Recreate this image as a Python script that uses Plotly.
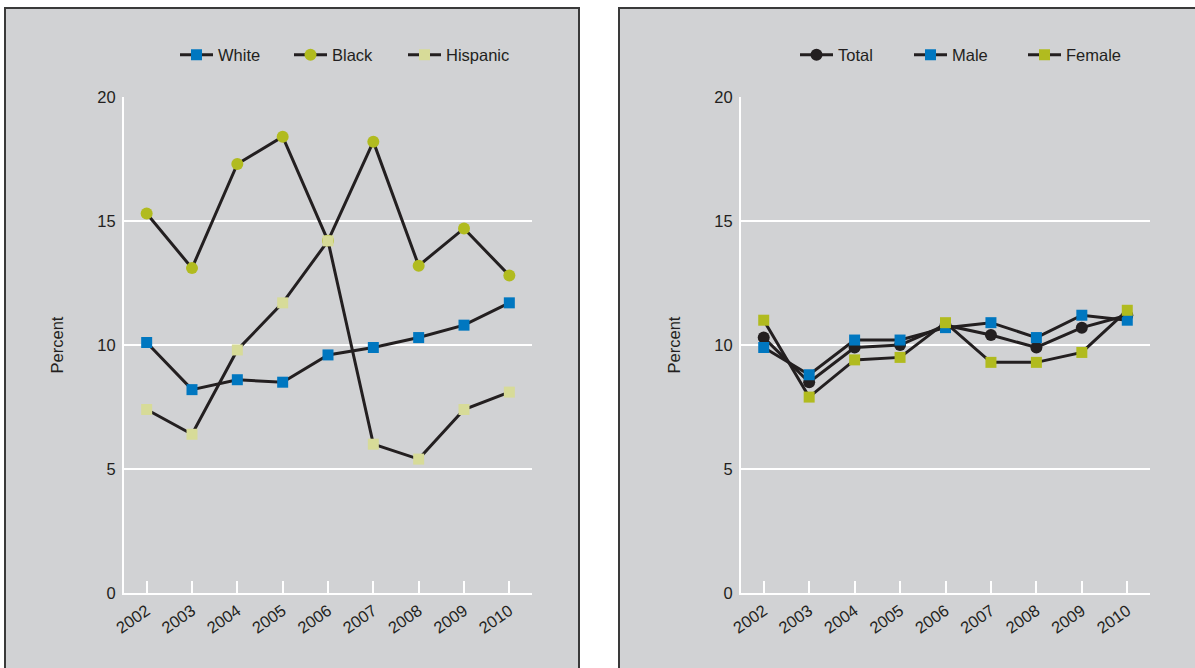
import plotly.graph_objects as go

years = ["2002", "2003", "2004", "2005", "2006", "2007", "2008", "2009", "2010"]

white = [10.1, 8.2, 8.6, 8.5, 9.6, 9.9, 10.3, 10.8, 11.7]
black = [15.3, 13.1, 17.3, 18.4, 14.2, 18.2, 13.2, 14.7, 12.8]
hispanic = [7.4, 6.4, 9.8, 11.7, 14.2, 6.0, 5.4, 7.4, 8.1]

total = [10.3, 8.5, 9.9, 10.0, 10.8, 10.4, 9.9, 10.7, 11.2]
male = [9.9, 8.8, 10.2, 10.2, 10.7, 10.9, 10.3, 11.2, 11.0]
female = [11.0, 7.9, 9.4, 9.5, 10.9, 9.3, 9.3, 9.7, 11.4]

y_ticks = [0, 5, 10, 15, 20]

W, H = 1195, 668
BG = "#d1d2d4"
LINE = "#231f20"
BLUE = "#0077c0"
OLIVE = "#b1bb1f"
PALE = "#d7db98"
FONT = "Liberation Sans, Arial, sans-serif"
FS = 16.5

def px(x):
    return x / W

def py(y):
    return 1 - y / H

fig = go.Figure()

def add(name, vals, color, symbol, xa, ya, legend):
    fig.add_trace(go.Scatter(
        x=years, y=vals, name=name, mode="lines+markers",
        line=dict(color=LINE, width=3),
        marker=dict(color=color, symbol=symbol, size=12 if symbol == "circle" else 11,
                    line=dict(width=0)),
        xaxis=xa, yaxis=ya, legend=legend, cliponaxis=False,
    ))

add("White", white, BLUE, "square", "x", "y", "legend")
add("Black", black, OLIVE, "circle", "x", "y", "legend")
add("Hispanic", hispanic, PALE, "square", "x", "y", "legend")
add("Total", total, LINE, "circle", "x2", "y2", "legend2")
add("Male", male, BLUE, "square", "x2", "y2", "legend2")
add("Female", female, OLIVE, "square", "x2", "y2", "legend2")

# panel backgrounds
fig.add_shape(type="rect", xref="paper", yref="paper",
              x0=px(5), x1=px(579), y0=py(700), y1=py(8),
              fillcolor=BG, line=dict(color="#3a3a3a", width=2), layer="below")
fig.add_shape(type="rect", xref="paper", yref="paper",
              x0=px(619), x1=px(1210), y0=py(700), y1=py(8),
              fillcolor=BG, line=dict(color="#3a3a3a", width=2), layer="below")

ydom = [py(593), py(97)]
common_x = dict(
    type="category", range=[-0.5, 8.5], showgrid=False, showline=True,
    linecolor="white", linewidth=2, ticks="inside", ticklen=12, tickcolor="white",
    tickwidth=1.5, tickangle=-35, tickfont=dict(family=FONT, size=FS, color=LINE),
    zeroline=False, fixedrange=True, automargin=False,
)
common_y = dict(
    range=[0, 20], tickvals=y_ticks, showgrid=True, gridcolor="white", gridwidth=1.5,
    showline=True, linecolor="white", linewidth=2, ticks="", zeroline=False,
    tickfont=dict(family=FONT, size=FS, color=LINE), ticklabelstandoff=3,
    title=dict(text="Percent", font=dict(family=FONT, size=FS, color=LINE), standoff=30),
    domain=ydom, fixedrange=True, automargin=False,
)

leg_common = dict(orientation="h", xanchor="left", yanchor="middle",
                  bgcolor="rgba(0,0,0,0)", font=dict(family=FONT, size=FS, color=LINE),
                  entrywidth=66, entrywidthmode="pixels", itemwidth=33, tracegroupgap=0)

fig.update_layout(
    width=W, height=H, margin=dict(l=0, r=0, t=0, b=0, autoexpand=False),
    paper_bgcolor="white", plot_bgcolor="rgba(0,0,0,0)",
    font=dict(family=FONT, color=LINE),
    xaxis=dict(domain=[px(124), px(532)], anchor="y", **common_x),
    yaxis=dict(anchor="x", **common_y),
    xaxis2=dict(domain=[px(741), px(1150)], anchor="y2", **common_x),
    yaxis2=dict(anchor="x2", **common_y),
    legend=dict(x=px(175), y=py(55), **leg_common),
    legend2=dict(x=px(795), y=py(55), **leg_common),
    showlegend=True,
)

fig.write_html("out.html", config={"displayModeBar": False},
               post_script="document.body.style.margin='0';")
